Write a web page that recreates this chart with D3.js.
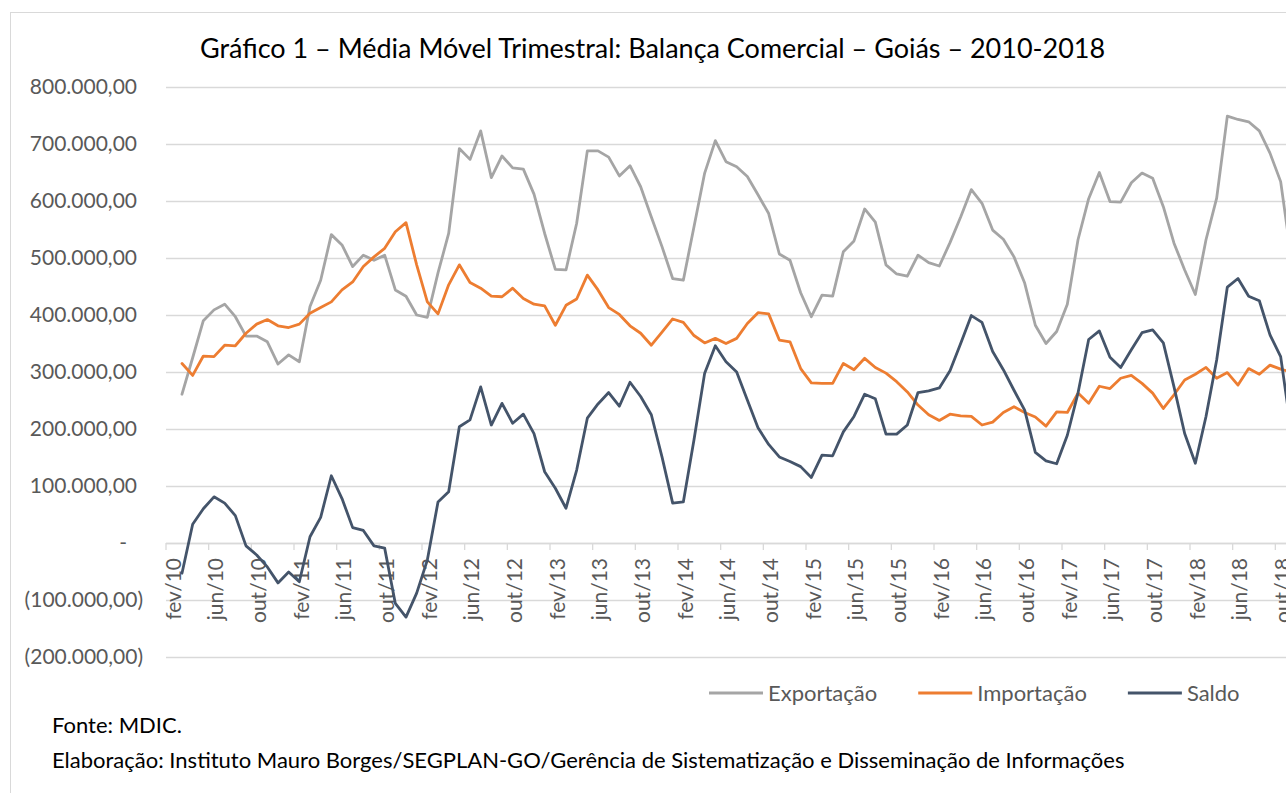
<!DOCTYPE html>
<html>
<head>
<meta charset="utf-8">
<script src="https://cdn.jsdelivr.net/npm/d3@7"></script>
<style>
  body { margin: 0; background: #fff; }
  svg { display: block; font-family: Lato, "Open Sans", sans-serif; }
</style>
</head>
<body>
<svg id="chart" width="1286" height="793"></svg>
<script>
// month labels, fev/10 .. nov/18
const monthNames = ["jan","fev","mar","abr","mai","jun","jul","ago","set","out","nov","dez"];
const categories = d3.range(106).map(i => {
  const m = 1 + i;
  return monthNames[m % 12] + "/" + (10 + Math.floor(m / 12));
});

// values in R$ mil (3-month moving average); first month has no value
const exportacao = [null,
  261, 325, 390, 409, 419, 397, 363, 363, 353, 314, 330, 318,
  415, 461, 541, 523, 485, 505, 496, 505, 444, 433, 400, 396,
  474, 543, 692, 673, 723, 641, 679, 658, 656, 612, 543, 480,
  479, 561, 688, 688, 677, 644, 662, 625, 572, 520, 464, 461,
  555, 649, 706, 669, 660, 643, 611, 578, 507, 496, 439, 397,
  435, 433, 511, 530, 586, 563, 488, 472, 468, 505, 492, 486,
  527, 572, 620, 596, 549, 533, 502, 456, 382, 350, 371, 419,
  532, 604, 650, 599, 598, 632, 649, 640, 590, 526, 479, 436,
  532, 605, 749, 743, 739, 723, 684, 634, 500];

const importacao = [null,
  315, 294, 328, 327, 347, 346, 368, 384, 392, 381, 378, 384,
  403, 413, 423, 444, 458, 485, 502, 517, 546, 562, 488, 423,
  402, 453, 488, 457, 447, 433, 432, 447, 429, 419, 416, 382,
  417, 428, 470, 444, 413, 401, 381, 368, 347, 370, 393, 387,
  364, 351, 359, 350, 359, 385, 404, 402, 356, 353, 306, 281,
  280, 280, 315, 304, 324, 308, 298, 283, 265, 242, 225, 215,
  226, 223, 222, 207, 212, 229, 239, 229, 221, 205, 230, 229,
  263, 245, 275, 271, 289, 294, 280, 263, 236, 260, 286, 296,
  308, 289, 299, 277, 306, 296, 312, 305, 300];

const saldo = [null,
  -53, 33, 60, 81, 70, 48, -5, -21, -42, -70, -51, -68,
  11, 45, 118, 78, 27, 22, -5, -9, -106, -130, -88, -30,
  72, 90, 204, 216, 274, 207, 245, 210, 226, 192, 125, 96,
  61, 128, 219, 244, 264, 240, 282, 257, 225, 151, 70, 72,
  181, 298, 346, 318, 300, 251, 202, 173, 151, 143, 134, 115,
  154, 153, 195, 222, 261, 253, 191, 191, 207, 264, 267, 272,
  302, 350, 399, 387, 336, 304, 268, 233, 159, 144, 139, 189,
  263, 357, 372, 326, 308, 339, 369, 374, 351, 274, 192, 140,
  222, 321, 449, 464, 433, 425, 365, 327, 195];

const yTicks = [-200, -100, 0, 100, 200, 300, 400, 500, 600, 700, 800];

const series = [
  { name: "Exportação", values: exportacao, color: "#a5a5a5" },
  { name: "Importação", values: importacao, color: "#ed7d31" },
  { name: "Saldo", values: saldo, color: "#44546a" }
];

const svg = d3.select("#chart");
const plotLeft = 166, plotRight = 1300;
const bw = 128 / 12;

const x = d3.scaleBand()
    .domain(categories)
    .range([plotLeft, plotLeft + categories.length * bw]);

const y = d3.scaleLinear()
    .domain([-200, 800])
    .range([657, 87]);

// chart area border
svg.append("rect")
    .attr("x", 10.5).attr("y", 12.5)
    .attr("width", 1400).attr("height", 900)
    .attr("fill", "none")
    .attr("stroke", "#d9d9d9");

// title
const title = svg.append("text")
    .attr("x", 200).attr("y", 58)
    .attr("font-size", 26)
    .attr("fill", "#000")
    .text("Gráfico 1 – Média Móvel Trimestral: Balança Comercial – Goiás – 2010-2018");
fitWidth(title, 905);

// gridlines
svg.append("g")
  .selectAll("line")
  .data(yTicks)
  .enter().append("line")
    .attr("x1", plotLeft).attr("x2", plotRight)
    .attr("y1", d => y(d) + 0.5).attr("y2", d => y(d) + 0.5)
    .attr("stroke", "#d9d9d9")
    .attr("stroke-width", 1.3);

// y labels, accounting style
const br = d3.formatLocale({ decimal: ",", thousands: ".", grouping: [3], currency: ["R$", ""] });
const fmt = br.format(",.2f");
const yLabel = (v) => v === 0 ? "-" : (v < 0 ? "(" + fmt(-v * 1000) + ")" : fmt(v * 1000));

svg.append("g")
  .selectAll("text")
  .data(yTicks)
  .enter().append("text")
    .attr("x", d => d < 0 ? 143 : (d === 0 ? 127 : 137))
    .attr("y", d => y(d))
    .attr("dy", "0.35em")
    .attr("text-anchor", "end")
    .attr("font-size", 21)
    .attr("fill", "#595959")
    .text(yLabel);

// x axis: ticks on category boundaries, label every 4 months
const labelled = categories.filter((d, i) => i % 4 === 0);
const xAxis = svg.append("g");

xAxis.append("line")
    .attr("x1", plotLeft).attr("x2", plotRight)
    .attr("y1", y(0) + 0.5).attr("y2", y(0) + 0.5)
    .attr("stroke", "#d9d9d9")
    .attr("stroke-width", 1.3);

xAxis.selectAll("line.tick")
  .data(labelled)
  .enter().append("line")
    .attr("class", "tick")
    .attr("x1", d => x(d)).attr("x2", d => x(d))
    .attr("y1", y(0)).attr("y2", y(0) + 7)
    .attr("stroke", "#d9d9d9")
    .attr("stroke-width", 1.3);

xAxis.selectAll("text")
  .data(labelled)
  .enter().append("text")
    .attr("transform", d => "translate(" + (x(d) + bw / 2 + 2) + "," + (y(0) + 15) + ") rotate(-90)")
    .attr("dy", "0.35em")
    .attr("text-anchor", "end")
    .attr("font-size", 21)
    .attr("fill", "#595959")
    .text(d => d);

// series lines
const line = d3.line()
    .defined(d => d != null)
    .x((d, i) => x(categories[i]) + bw / 2)
    .y(d => y(d));

svg.append("g")
  .selectAll("path")
  .data(series)
  .enter().append("path")
    .attr("d", d => line(d.values))
    .attr("fill", "none")
    .attr("stroke", d => d.color)
    .attr("stroke-width", 2.8)
    .attr("stroke-linejoin", "round")
    .attr("stroke-linecap", "round");

// legend
let lx = 709;
const legend = svg.append("g");
series.forEach((s) => {
  legend.append("line")
      .attr("x1", lx).attr("x2", lx + 54)
      .attr("y1", 693).attr("y2", 693)
      .attr("stroke", s.color)
      .attr("stroke-width", 3);
  const t = legend.append("text")
      .attr("x", lx + 59).attr("y", 693)
      .attr("dy", "0.35em")
      .attr("font-size", 22)
      .attr("fill", "#595959")
      .text(s.name);
  lx += 59 + t.node().getComputedTextLength() + 41;
});

// source notes
const elab = svg.append("text")
    .attr("x", 52).attr("y", 768)
    .attr("font-size", 20)
    .attr("fill", "#000")
    .text("Elaboração: Instituto Mauro Borges/SEGPLAN-GO/Gerência de Sistematização e Disseminação de Informações");
fitWidth(elab, 1073);

svg.append("text")
    .attr("x", 52).attr("y", 733)
    .attr("font-size", elab.attr("font-size"))
    .attr("fill", "#000")
    .text("Fonte: MDIC.");

function fitWidth(sel, target) {
  const size = +sel.attr("font-size");
  const w = sel.node().getComputedTextLength();
  sel.attr("font-size", (size * target / w).toFixed(2));
}
</script>
</body>
</html>
